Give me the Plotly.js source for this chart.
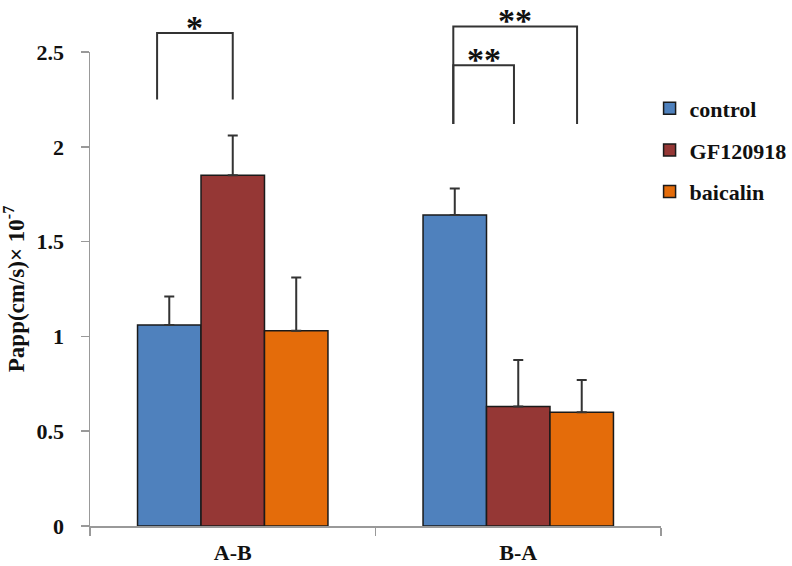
<!DOCTYPE html>
<html>
<head>
<meta charset="utf-8">
<script src="https://cdn.plot.ly/plotly-3.0.1.min.js"></script>
<style>html,body{margin:0;padding:0;background:#fff;}#chart{width:792px;height:566px;}</style>
</head>
<body>
<div id="chart"></div>
<script>
// ---- data ----
const categories = ["A-B", "B-A"];
const seriesNames = ["control", "GF120918", "baicalin"];
const controlValues = [1.06, 1.64];
const controlErrors = [0.15, 0.14];
const gfValues = [1.85, 0.63];
const gfErrors = [0.21, 0.245];
const baicalinValues = [1.03, 0.60];
const baicalinErrors = [0.28, 0.17];
const yTickVals = [0, 0.5, 1, 1.5, 2, 2.5];
const yTickText = ["0", "0.5", "1", "1.5", "2", "2.5"];
// significance brackets (category units / data units)
const brackets = [
  {x0: -0.265, x1: 0.0, yb0: 2.25, yb1: 2.25, yt: 2.60, label: "*"},
  {x0: 0.7725, x1: 1.206, yb0: 2.12, yb1: 2.12, yt: 2.635, label: "**"},
  {x0: 0.7725, x1: 0.985, yb0: 2.12, yb1: 2.12, yt: 2.43, label: "**"}
];

const colors = ["#4F81BD", "#953735", "#E46C0A"];
const values = [controlValues, gfValues, baicalinValues];
const errors = [controlErrors, gfErrors, baicalinErrors];
const FONT = "Liberation Serif, Times New Roman, DejaVu Serif, serif";

const traces = seriesNames.map((name, i) => ({
  type: "bar",
  name: name,
  legendgroup: name,
  x: categories,
  y: values[i],
  marker: {color: colors[i], line: {color: "#1a1a1a", width: 1.5}},
  error_y: {type: "data", symmetric: false, array: errors[i], arrayminus: errors[i].map(() => 0),
            color: "#333", thickness: 2, width: 5},
  hoverinfo: "none"
}));

const Y_MAX = 2.5;
const px = xd => (xd + 0.5) / categories.length;
const py = yd => yd / Y_MAX;
const lineStyle = {color: "#333", width: 2};
const shapes = [];
const annotations = [];
brackets.forEach(b => {
  shapes.push({type: "path", xref: "paper", yref: "paper",
    path: `M${px(b.x0)},${py(b.yb0)} L${px(b.x0)},${py(b.yt)} L${px(b.x1)},${py(b.yt)} L${px(b.x1)},${py(b.yb1)}`,
    line: lineStyle});
  annotations.push({xref: "paper", yref: "paper", x: px((b.x0 + b.x1) / 2), y: py(b.yt),
    text: "<b>" + b.label + "</b>", showarrow: false, xanchor: "center", yanchor: "bottom", yshift: -15,
    font: {family: FONT, size: 34, color: "#111"}});
});

const layout = {
  width: 792, height: 566,
  margin: {l: 90, r: 131, t: 52, b: 40, autoexpand: false},
  paper_bgcolor: "#fff", plot_bgcolor: "#fff",
  barmode: "group", bargap: 0.333, bargroupgap: 0,
  font: {family: FONT, color: "#111"},
  showlegend: true,
  legend: {x: 0.98, xanchor: "left", y: 0.925, yanchor: "top",
    font: {family: FONT, size: 22, weight: "bold", color: "#111"},
    traceorder: "grouped", tracegroupgap: 10, bgcolor: "rgba(0,0,0,0)"},
  xaxis: {type: "category", showline: true, linecolor: "#999", linewidth: 1.5,
    ticks: "outside", tickson: "boundaries", ticklen: 8, tickcolor: "#999", tickwidth: 1.5,
    ticklabelstandoff: 6,
    showgrid: false, zeroline: false, fixedrange: true,
    tickfont: {family: FONT, size: 22, weight: "bold", color: "#111"}},
  yaxis: {range: [0, Y_MAX], tickvals: yTickVals, ticktext: yTickText,
    showline: true, linecolor: "#999", linewidth: 1.5,
    ticks: "outside", ticklen: 8, tickcolor: "#999", tickwidth: 1.5, ticklabelstandoff: 12,
    showgrid: false, zeroline: false, fixedrange: true,
    tickfont: {family: FONT, size: 22, weight: "bold", color: "#111"},
    title: {text: "Papp(cm/s)\u00D7 10<sup>-7</sup>", standoff: 12,
      font: {family: FONT, size: 23, weight: "bold", color: "#111"}}},
  shapes: shapes,
  annotations: annotations
};

Plotly.newPlot("chart", traces, layout, {displayModeBar: false, staticPlot: true});
</script>
</body>
</html>
